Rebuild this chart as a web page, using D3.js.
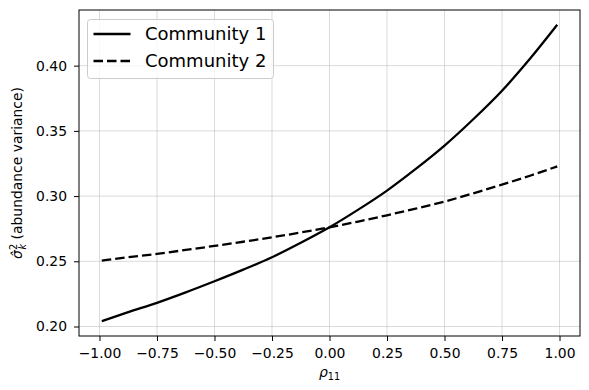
<!DOCTYPE html>
<html lang="en">
<head>
    <meta charset="UTF-8">
    <title>Abundance variance vs rho</title>
    <script src="https://d3js.org/d3.v7.min.js"></script>
    <style>
        body {
            margin: 0;
            background-color: white;
            font-family: "DejaVu Sans", sans-serif;
        }
        .grid line {
            stroke: #b0b0b0;
            stroke-opacity: 0.6;
            stroke-width: 0.8px;
        }
        .tick text {
            font-size: 13.9px;
            fill: #000;
        }
    </style>
</head>
<body>
    <div id="chart"></div>

    <script>
        // rho values the curves were sampled at
        const rho = [-0.99, -0.875, -0.75, -0.625, -0.5, -0.375, -0.25, -0.125, 0, 0.125, 0.25, 0.375, 0.5, 0.625, 0.75, 0.875, 0.99];
        const community1 = [0.2041, 0.2110, 0.2182, 0.2262, 0.2347, 0.2436, 0.2531, 0.2642, 0.2761, 0.2896, 0.3042, 0.3208, 0.3387, 0.3589, 0.3808, 0.4060, 0.4313];
        const community2 = [0.2506, 0.2531, 0.2557, 0.2587, 0.2618, 0.2650, 0.2684, 0.2721, 0.2761, 0.2805, 0.2853, 0.2904, 0.2958, 0.3021, 0.3088, 0.3158, 0.3228];
        const seriesNames = ["Community 1", "Community 2"];
        const xTicks = [-1, -0.75, -0.5, -0.25, 0, 0.25, 0.5, 0.75, 1];
        const yTicks = [0.20, 0.25, 0.30, 0.35, 0.40];

        const width = 589, height = 390;
        const margin = { top: 10, right: 9, bottom: 54, left: 79 };
        const w = width - margin.left - margin.right;
        const h = height - margin.top - margin.bottom;

        const svg = d3.select("#chart").append("svg")
            .attr("width", width)
            .attr("height", height);
        const g = svg.append("g")
            .attr("transform", `translate(${margin.left},${margin.top})`);

        // matplotlib-like 5% margins around the data
        const xMin = d3.min(rho), xMax = d3.max(rho);
        const xPad = (xMax - xMin) * 0.05;
        const allY = community1.concat(community2);
        const yMin = d3.min(allY), yMax = d3.max(allY);
        const yPad = (yMax - yMin) * 0.05;

        const x = d3.scaleLinear().domain([xMin - xPad, xMax + xPad]).range([0, w]);
        const y = d3.scaleLinear().domain([yMin - yPad, yMax + yPad]).range([h, 0]);

        // grid
        g.append("g").attr("class", "grid")
            .selectAll("line").data(xTicks).enter().append("line")
            .attr("x1", d => x(d)).attr("x2", d => x(d))
            .attr("y1", 0).attr("y2", h);
        g.append("g").attr("class", "grid")
            .selectAll("line").data(yTicks).enter().append("line")
            .attr("y1", d => y(d)).attr("y2", d => y(d))
            .attr("x1", 0).attr("x2", w);

        // axes
        const xAxis = g.append("g")
            .attr("transform", `translate(0,${h})`)
            .call(d3.axisBottom(x).tickValues(xTicks).tickFormat(d3.format(".2f")).tickSize(5).tickPadding(7));
        const yAxis = g.append("g")
            .call(d3.axisLeft(y).tickValues(yTicks).tickFormat(d3.format(".2f")).tickSize(5).tickPadding(7));
        [xAxis, yAxis].forEach(a => {
            a.select(".domain").remove();
            a.selectAll(".tick line").attr("stroke", "#000").attr("stroke-width", 1);
            a.selectAll("text").attr("font-family", "DejaVu Sans");
        });

        // frame
        g.append("rect")
            .attr("width", w).attr("height", h)
            .attr("fill", "none").attr("stroke", "#000").attr("stroke-width", 1);

        // lines
        const line = d3.line()
            .x(d => x(d[0]))
            .y(d => y(d[1]))
            .curve(d3.curveMonotoneX);
        const series = [community1, community2];
        const dashes = [null, "9.5,4"];

        series.forEach((vals, i) => {
            g.append("path")
                .datum(rho.map((r, j) => [r, vals[j]]))
                .attr("fill", "none")
                .attr("stroke", "#000")
                .attr("stroke-width", 2.3)
                .attr("stroke-dasharray", dashes[i])
                .attr("d", line);
        });

        // legend
        const legend = g.append("g").attr("transform", "translate(8.5,9.5)");
        legend.append("rect")
            .attr("width", 186).attr("height", 59)
            .attr("rx", 3)
            .attr("fill", "white").attr("fill-opacity", 0.8)
            .attr("stroke", "#cccccc").attr("stroke-width", 1);
        seriesNames.forEach((name, i) => {
            const ly = 14.5 + i * 27;
            legend.append("line")
                .attr("x1", 6).attr("x2", 43)
                .attr("y1", ly).attr("y2", ly)
                .attr("stroke", "#000").attr("stroke-width", 2.3)
                .attr("stroke-dasharray", dashes[i]);
            legend.append("text")
                .attr("x", 57.5).attr("y", ly)
                .attr("dy", "0.36em")
                .attr("font-size", 18)
                .attr("font-family", "DejaVu Sans")
                .text(name);
        });

        // axis labels
        const xl = svg.append("text")
            .attr("x", margin.left + w / 2)
            .attr("y", 377)
            .attr("text-anchor", "middle")
            .attr("font-family", "DejaVu Sans")
            .attr("font-size", 13.9);
        xl.append("tspan").attr("font-style", "italic").text("ρ");
        xl.append("tspan").attr("font-size", 9.7).attr("dy", 3).text("11");

        const yl = svg.append("text")
            .attr("transform", `translate(22,${margin.top + h / 2}) rotate(-90)`)
            .attr("text-anchor", "middle")
            .attr("font-family", "DejaVu Sans")
            .attr("font-size", 13.9);
        yl.append("tspan").attr("font-style", "italic").text("σ\u0302");
        yl.append("tspan").attr("font-size", 9.7).attr("dy", -5).text("2");
        yl.append("tspan").attr("font-size", 9.7).attr("font-style", "italic").attr("dx", -5.5).attr("dy", 9).text("k");
        yl.append("tspan").attr("dy", -4).text(" (abundance variance)");
    </script>
</body>
</html>
